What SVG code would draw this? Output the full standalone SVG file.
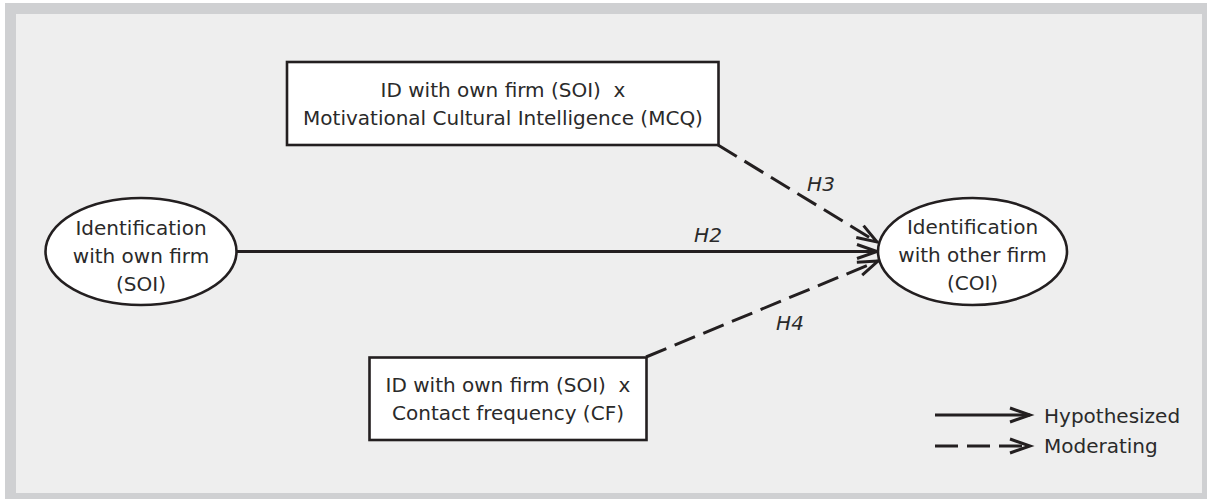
<svg xmlns="http://www.w3.org/2000/svg" width="1207" height="499" viewBox="0 0 1207 499">
<style>
text{font-family:"DejaVu Sans","Liberation Sans",sans-serif;font-size:20px;fill:#2a2a2a;text-anchor:middle}
.lab{font-style:italic}
.leg{text-anchor:start}
.node{fill:#ffffff;stroke:#231f20;stroke-width:2.6}
.c{fill:none;stroke:#231f20;stroke-width:3}
.d{stroke-dasharray:22 9}
</style>
<defs>
<marker id="ah" markerUnits="userSpaceOnUse" viewBox="-22 -9 24 18" refX="0" refY="0" markerWidth="24" markerHeight="18" orient="auto" overflow="visible">
<path d="M-20,-7 L0,0 L-20,7" fill="none" stroke="#231f20" stroke-width="3"/>
</marker>
</defs>
<rect x="0" y="0" width="1207" height="499" fill="#ffffff"/>
<rect x="5" y="3" width="1202" height="496" fill="#cfd0d2"/>
<rect x="16" y="14" width="1186" height="479" fill="#eeeeee"/>
<g id="connectors">
<line class="c" x1="237" y1="251.5" x2="877" y2="251.5" marker-end="url(#ah)"/>
<line class="c d" x1="718" y1="145" x2="877" y2="242" marker-end="url(#ah)"/>
<line class="c d" x1="646" y1="357" x2="878" y2="261" marker-end="url(#ah)"/>
<text class="lab" x="708" y="242">H2</text>
<text class="lab" x="821" y="191">H3</text>
<text class="lab" x="790" y="330">H4</text>
</g>
<g id="soi">
<ellipse class="node" cx="141" cy="251.5" rx="95.5" ry="53.5"/>
<text x="141" y="235">Identification</text>
<text x="141" y="263">with own firm</text>
<text x="141" y="291">(SOI)</text>
</g>
<g id="coi">
<ellipse class="node" cx="972.5" cy="251.5" rx="94.5" ry="53.5"/>
<text x="972.5" y="234">Identification</text>
<text x="972.5" y="262">with other firm</text>
<text x="972.5" y="290">(COI)</text>
</g>
<g id="mcq">
<rect class="node" x="287" y="62" width="431.5" height="83" stroke-width="3"/>
<text x="503" y="97" xml:space="preserve">ID with own firm (SOI)  x</text>
<text x="503" y="125">Motivational Cultural Intelligence (MCQ)</text>
</g>
<g id="cf">
<rect class="node" x="369.5" y="357.5" width="277" height="82.5" stroke-width="3"/>
<text x="508" y="392" xml:space="preserve">ID with own firm (SOI)  x</text>
<text x="508" y="420">Contact frequency (CF)</text>
</g>
<g id="legend">
<line class="c" x1="935" y1="415" x2="1030" y2="415" marker-end="url(#ah)"/>
<line class="c" x1="935" y1="446" x2="1030" y2="446" stroke-dasharray="23 9" marker-end="url(#ah)"/>
<text class="leg" x="1044" y="423">Hypothesized</text>
<text class="leg" x="1044" y="453">Moderating</text>
</g>
</svg>
